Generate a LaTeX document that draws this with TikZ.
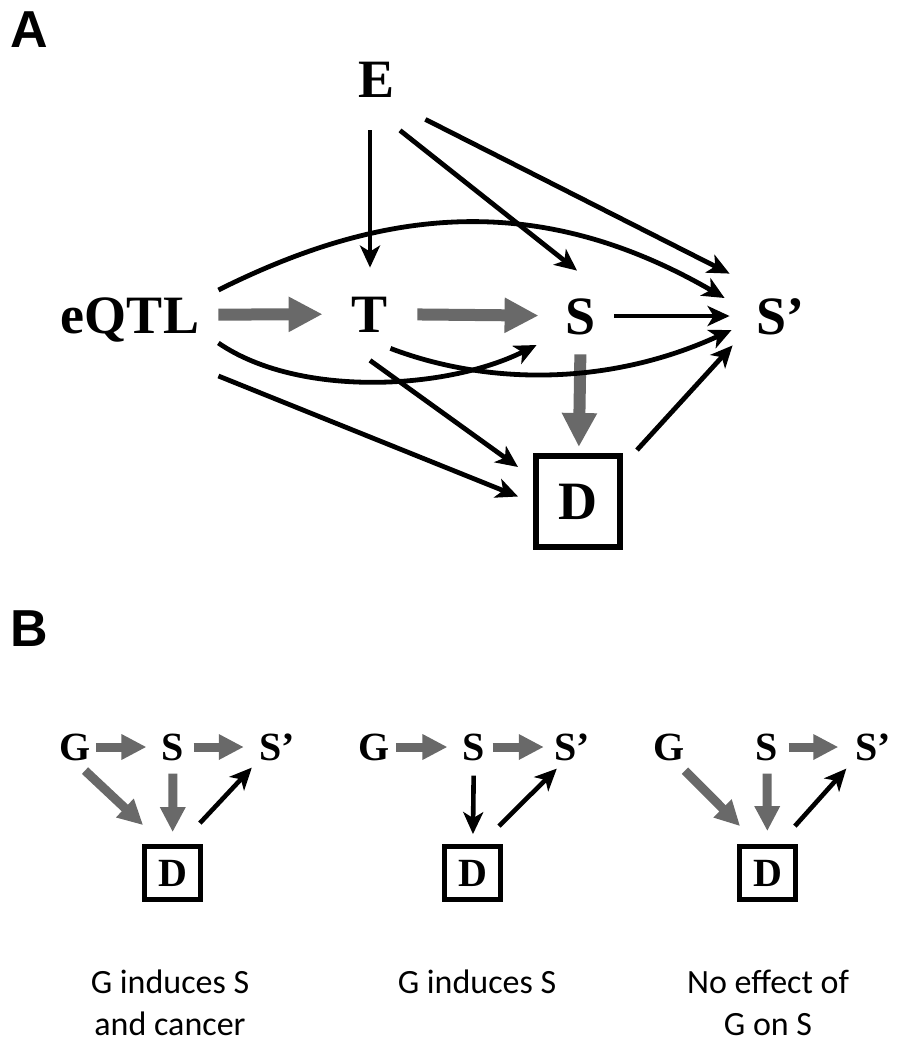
\documentclass[tikz,border=0pt]{standalone}
\usepackage{fontspec}
\setmainfont{Liberation Serif}
\newfontfamily\panelfont{Liberation Sans}
\newfontfamily\capfont{Carlito}
\usepackage{xcolor}
\usepackage{tikz}
\usetikzlibrary{arrows.meta}
\definecolor{pathgray}{HTML}{696969}
\tikzset{
  panel/.style={inner sep=0pt, text height=18.6pt, text depth=0pt, font=\panelfont\bfseries\fontsize{26}{30}\selectfont},
  var/.style={inner sep=0pt, text height=18pt, text depth=0pt, font=\bfseries\fontsize{27}{30}\selectfont},
  svar/.style={inner sep=0pt, text height=13.2pt, text depth=0pt, font=\bfseries\fontsize{20}{24}\selectfont},
  dbox/.style={var, draw, line width=3pt, minimum width=42pt, minimum height=45.5pt},
  sdbox/.style={svar, draw, line width=2.4pt, minimum width=28pt, minimum height=26.5pt},
  gbig/.style={pathgray, line width=6pt, -{Triangle[length=17pt, width=16.5pt]}},
  gsmall/.style={pathgray, line width=4.5pt, -{Triangle[length=12.5pt, width=12pt]}},
  blk/.style={black, line width=2.4pt, -{Stealth[length=11pt, width=10pt, inset=3pt]}},
  sblk/.style={black, line width=2.3pt, -{Stealth[length=11pt, width=10pt, inset=3pt]}},
  caption/.style={align=center, inner sep=0pt, font=\capfont\fontsize{17}{21}\selectfont}
}

\begin{document}
\begin{tikzpicture}[x=0.5pt, y=-0.5pt]
  \useasboundingbox (0,0) rectangle (896,1050);

  % panel A
  \node[panel, anchor=west] (labA) at (10,29) {A};
  \node[var] (E) at (377,79) {E};
  \node[var] (eqtl) at (130,315) {eQTL};
  \node[var] (T) at (370,314) {T};
  \node[var] (S) at (581,316) {S};
  \node[var] (Sp) at (780,316) {S’};
  \node[dbox] (D) at (578,501.5) {D};

  \draw[gbig, shorten <=9.5pt, shorten >=14.5pt] (eqtl) -- (T);
  \draw[gbig, shorten <=14.5pt, shorten >=13.5pt] (T) -- (S);
  \draw[gbig, shorten <=10pt, shorten >=3pt] (S) -- (D);

  \draw[blk, shorten <=16.5pt, shorten >=14pt] (E.south -| T.north) -- (T.north);
  \draw[blk] ([shift={(23,33)}]E.south) -- ([shift={(-4,-27)}]S.north);
  \draw[blk] ([shift={(30,22)}]E.south east) -- ([shift={(-26,-24)}]Sp.north west);
  \draw[blk] ([shift={(19,-25)}]eqtl.east) .. controls +(160,-80) and +(-190,-110) .. ([shift={(-31,-18)}]Sp.west);
  \draw[blk, shorten <=9pt, shorten >=13pt] (S) -- (Sp);
  \draw[blk] ([shift={(2,16)}]T.south east) .. controls +(100,38) and +(-120,55) .. ([shift={(-24,14)}]Sp.west);
  \draw[blk] ([shift={(19,28)}]eqtl.east) .. controls +(80,55) and +(-90,45) .. ([shift={(-29,29)}]S.west);
  \draw[blk] ([shift={(0,28)}]T.south) -- ([shift={(-15,14)}]D.north west);
  \draw[blk] ([shift={(19,61)}]eqtl.east) -- ([shift={(-15,-5)}]D.west);
  \draw[blk] ([shift={(14,-3)}]D.north east) -- ([shift={(-23,11)}]Sp.south west);

  % panel B
  \node[panel, anchor=west] (labB) at (10,628) {B};

  \node[svar] (g1) at (75,747) {G};
  \node[svar] (s1) at (173,747) {S};
  \node[svar] (sp1) at (277,747) {S’};
  \node[sdbox] (d1) at (172.5,873) {D};
  \draw[gsmall, shorten <=2.5pt, shorten >=7.5pt] (g1) -- (s1);
  \draw[gsmall, shorten <=4.5pt, shorten >=7.5pt] (s1) -- (sp1);
  \draw[gsmall] ([shift={(10,10)}]g1.south) -- ([shift={(1,-19)}]d1.north west);
  \draw[gsmall, shorten <=6.5pt, shorten >=6pt] (s1) -- (d1);
  \draw[sblk] ([shift={(-3,-21)}]d1.north east) -- ([shift={(-7,7)}]sp1.south west);

  \node[svar] (g2) at (374,747) {G};
  \node[svar] (s2) at (474,747) {S};
  \node[svar] (sp2) at (572,747) {S’};
  \node[sdbox] (d2) at (472.5,873) {D};
  \draw[gsmall, shorten <=3pt, shorten >=7.5pt] (g2) -- (s2);
  \draw[gsmall, shorten <=3.5pt, shorten >=5pt] (s2) -- (sp2);
  \draw[sblk, shorten <=7.5pt, shorten >=5pt] (s2) -- (d2);
  \draw[sblk] ([shift={(-4,-18)}]d2.north east) -- ([shift={(3,8)}]sp2.south west);

  \node[svar] (g3) at (669,747) {G};
  \node[svar] (s3) at (767,747) {S};
  \node[svar] (sp3) at (873.5,747) {S’};
  \node[sdbox] (d3) at (767.5,873) {D};
  \draw[gsmall, shorten <=5pt, shorten >=8.5pt] (s3) -- (sp3);
  \draw[gsmall] ([shift={(0,10)}]g3.south east) -- ([shift={(3,-18)}]d3.north west);
  \draw[gsmall, shorten <=6.5pt, shorten >=6.5pt] (s3) -- (d3);
  \draw[sblk] ([shift={(-3,-18)}]d3.north east) -- ([shift={(-9,8)}]sp3.south west);

  \node[caption, anchor=base] (c1) at (170,1035) {G induces S\\and cancer};
  \node[caption, anchor=base] (c2) at (477,993) {G induces S};
  \node[caption, anchor=base] (c3) at (768,1035) {No effect of\\G on S};
\end{tikzpicture}
\end{document}
